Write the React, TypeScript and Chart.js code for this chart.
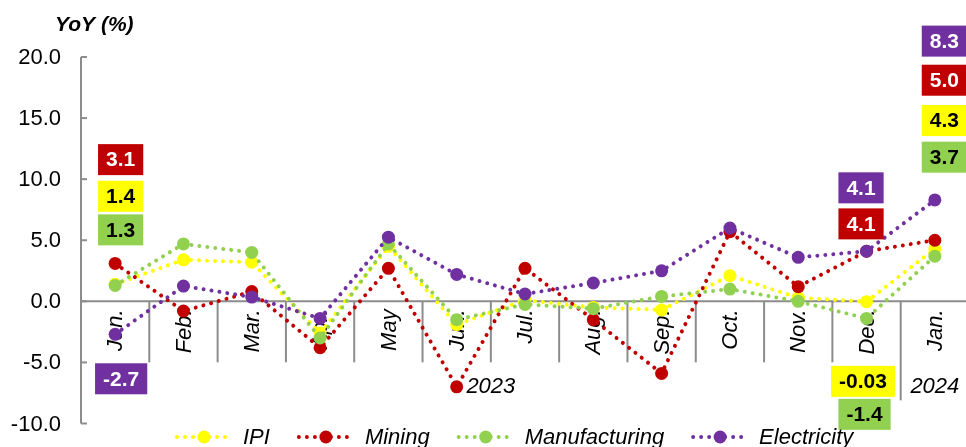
import React, { useEffect, useRef } from "react";
import { Chart, registerables } from "chart.js";

Chart.register(...registerables);

// ---------- data ----------
const categories = ["Jan.", "Feb.", "Mar.", "Apr.", "May", "Jun.", "Jul.", "Aug.", "Sep.", "Oct.", "Nov.", "Dec.", "Jan."];
const yearGroups = [
  { label: "2023", from: 0, to: 11 },
  { label: "2024", from: 12, to: 12 },
];
const seriesNames = ["IPI", "Mining", "Manufacturing", "Electricity"];
const ipi = [1.4, 3.4, 3.2, -2.6, 4.5, -1.9, 0.1, -0.5, -0.7, 2.1, 0.3, -0.03, 4.3];
const mining = [3.1, -0.8, 0.8, -3.8, 2.7, -7.0, 2.7, -1.5, -5.9, 5.7, 1.2, 4.1, 5.0];
const manufacturing = [1.3, 4.7, 4.0, -3.0, 4.7, -1.5, -0.25, -0.6, 0.4, 1.0, 0.0, -1.4, 3.7];
const electricity = [-2.7, 1.25, 0.35, -1.4, 5.25, 2.2, 0.6, 1.5, 2.5, 6.0, 3.6, 4.1, 8.3];
const yTicks = [20, 15, 10, 5, 0, -5, -10];
const yTitle = "YoY (%)";

// ---------- styles ----------
const seriesData = [ipi, mining, manufacturing, electricity];
const seriesColors = ["#FFFF00", "#C00000", "#92D050", "#7030A0"];
const seriesTextColors = ["#000000", "#FFFFFF", "#000000", "#FFFFFF"];
const AXIS_COLOR = "#8C8C8C";
const FONT = '"Liberation Sans", Arial, Helvetica, sans-serif';

// value call-outs: series index, category index, box centre (in y data units), x shift (px)
const callouts = [
  { s: 1, i: 0, yAt: 11.6, dx: 5.5, dec: 1 },
  { s: 0, i: 0, yAt: 8.6, dx: 5.5, dec: 1 },
  { s: 2, i: 0, yAt: 5.85, dx: 5.5, dec: 1 },
  { s: 3, i: 0, yAt: -6.34, dx: 6, dec: 1 },
  { s: 3, i: 11, yAt: 9.29, dx: -5.5, dec: 1 },
  { s: 1, i: 11, yAt: 6.34, dx: -5.5, dec: 1 },
  { s: 0, i: 11, yAt: -6.55, dx: -3.5, dec: 2 },
  { s: 2, i: 11, yAt: -9.25, dx: -2, dec: 1 },
  { s: 3, i: 12, yAt: 21.3, dx: 9.5, dec: 1 },
  { s: 1, i: 12, yAt: 18.1, dx: 9.5, dec: 1 },
  { s: 0, i: 12, yAt: 14.8, dx: 9.5, dec: 1 },
  { s: 2, i: 12, yAt: 11.8, dx: 9.5, dec: 1 },
];

function dottedLine(ctx: CanvasRenderingContext2D, x1: number, y1: number, x2: number, y2: number, color: string) {
  ctx.save();
  ctx.strokeStyle = color;
  ctx.lineWidth = 4;
  ctx.lineCap = "round";
  ctx.setLineDash([0.001, 8]);
  ctx.beginPath();
  ctx.moveTo(x1, y1);
  ctx.lineTo(x2, y2);
  ctx.stroke();
  ctx.restore();
}

const overlayPlugin = {
  id: "overlay",
  beforeDatasetsDraw(chart: any) {
    const { ctx, chartArea, scales } = chart;
    const xs = scales.x;
    const ys = scales.y;
    const y0 = ys.getPixelForValue(0);
    ctx.save();
    ctx.strokeStyle = AXIS_COLOR;
    ctx.lineWidth = 2;
    // y axis
    ctx.beginPath();
    ctx.moveTo(chartArea.left, ys.getPixelForValue(yTicks[0]));
    ctx.lineTo(chartArea.left, ys.getPixelForValue(yTicks[yTicks.length - 1]));
    ctx.stroke();
    yTicks.forEach((v) => {
      const py = ys.getPixelForValue(v);
      ctx.beginPath();
      ctx.moveTo(chartArea.left, py);
      ctx.lineTo(chartArea.left + 6, py);
      ctx.stroke();
    });
    // x axis at zero
    ctx.beginPath();
    ctx.moveTo(chartArea.left, y0);
    ctx.lineTo(chartArea.right, y0);
    ctx.stroke();
    // category separators
    const yearEnds = yearGroups.slice(0, -1).map((g) => g.to);
    for (let i = 0; i < categories.length; i++) {
      const bx = i === categories.length - 1 ? chartArea.right : (xs.getPixelForValue(i) + xs.getPixelForValue(i + 1)) / 2;
      const len = yearEnds.includes(i) ? 99 : 61;
      ctx.beginPath();
      ctx.moveTo(bx, y0);
      ctx.lineTo(bx, y0 + len);
      ctx.stroke();
    }
    // y tick labels
    ctx.fillStyle = "#000";
    ctx.font = `22px ${FONT}`;
    ctx.textAlign = "right";
    ctx.textBaseline = "middle";
    yTicks.forEach((v) => {
      ctx.fillText(v.toFixed(1), chartArea.left - 20, ys.getPixelForValue(v) + 1);
    });
    // category labels rotated
    ctx.font = `italic 22px ${FONT}`;
    categories.forEach((c, i) => {
      const px = xs.getPixelForValue(i);
      ctx.save();
      ctx.translate(px + 1, y0 + 8);
      ctx.rotate(-Math.PI / 2);
      ctx.textAlign = "right";
      ctx.textBaseline = "middle";
      ctx.fillText(c, 0, 0);
      ctx.restore();
    });
    // year labels
    ctx.textAlign = "center";
    ctx.textBaseline = "middle";
    yearGroups.forEach((g) => {
      const px = (xs.getPixelForValue(g.from) + xs.getPixelForValue(g.to)) / 2;
      ctx.fillText(g.label, px, y0 + 86);
    });
    // title
    ctx.font = `bold italic 21px ${FONT}`;
    ctx.textAlign = "left";
    ctx.fillText(yTitle, chartArea.left - 26, 25);
    ctx.restore();
  },
  afterDraw(chart: any) {
    const { ctx, scales } = chart;
    const xs = scales.x;
    const ys = scales.y;
    ctx.save();
    // call-out boxes
    ctx.font = `bold 21px ${FONT}`;
    ctx.textAlign = "center";
    ctx.textBaseline = "middle";
    callouts.forEach((c) => {
      const txt = seriesData[c.s][c.i].toFixed(c.dec);
      const tw = ctx.measureText(txt).width;
      const w = tw + 16;
      const h = 31;
      const cx = xs.getPixelForValue(c.i) + c.dx;
      const cy = ys.getPixelForValue(c.yAt);
      ctx.fillStyle = seriesColors[c.s];
      ctx.fillRect(cx - w / 2, cy - h / 2, w, h);
      ctx.fillStyle = seriesTextColors[c.s];
      ctx.fillText(txt, cx, cy + 1);
    });
    // legend
    ctx.font = `italic 22px ${FONT}`;
    ctx.textAlign = "left";
    let lx = 175;
    const ly = 437;
    seriesNames.forEach((name, k) => {
      dottedLine(ctx, lx + 2, ly, lx + 56, ly, seriesColors[k]);
      ctx.fillStyle = seriesColors[k];
      ctx.beginPath();
      ctx.arc(lx + 29, ly, 6.5, 0, Math.PI * 2);
      ctx.fill();
      ctx.fillStyle = "#000";
      ctx.fillText(name, lx + 68, ly + 1);
      lx = lx + 68 + ctx.measureText(name).width + 27;
    });
    ctx.restore();
  },
};

export default function App() {
  const ref = useRef<HTMLCanvasElement>(null);
  useEffect(() => {
    const canvas = ref.current;
    if (!canvas) return;
    const order = [3, 2, 1, 0];
    const chart = new Chart(canvas, {
      type: "line",
      data: {
        labels: categories,
        datasets: seriesNames.map((name, k) => ({
          label: name,
          data: seriesData[k],
          borderColor: seriesColors[k],
          backgroundColor: seriesColors[k],
          pointBackgroundColor: seriesColors[k],
          pointBorderWidth: 0,
          pointRadius: 6.5,
          pointHoverRadius: 6.5,
          borderWidth: 4,
          borderDash: [0.001, 8],
          borderCapStyle: "round",
          tension: 0,
          order: order[k],
          clip: false as any,
        })),
      },
      options: {
        responsive: false,
        animation: false,
        events: [],
        layout: { padding: { left: 81, top: 57, right: 21, bottom: 23.5 } },
        scales: {
          x: { display: false, offset: true },
          y: { display: false, min: -10, max: 20 },
        },
        plugins: { legend: { display: false }, tooltip: { enabled: false } },
      },
      plugins: [overlayPlugin],
    });
    return () => chart.destroy();
  }, []);
  return (
    <div style={{ position: "fixed", left: 0, top: 0, width: 966, height: 447, overflow: "hidden", background: "#fff" }}>
      <canvas ref={ref} width={990} height={447} style={{ display: "block", width: 990, height: 447 }} />
    </div>
  );
}
